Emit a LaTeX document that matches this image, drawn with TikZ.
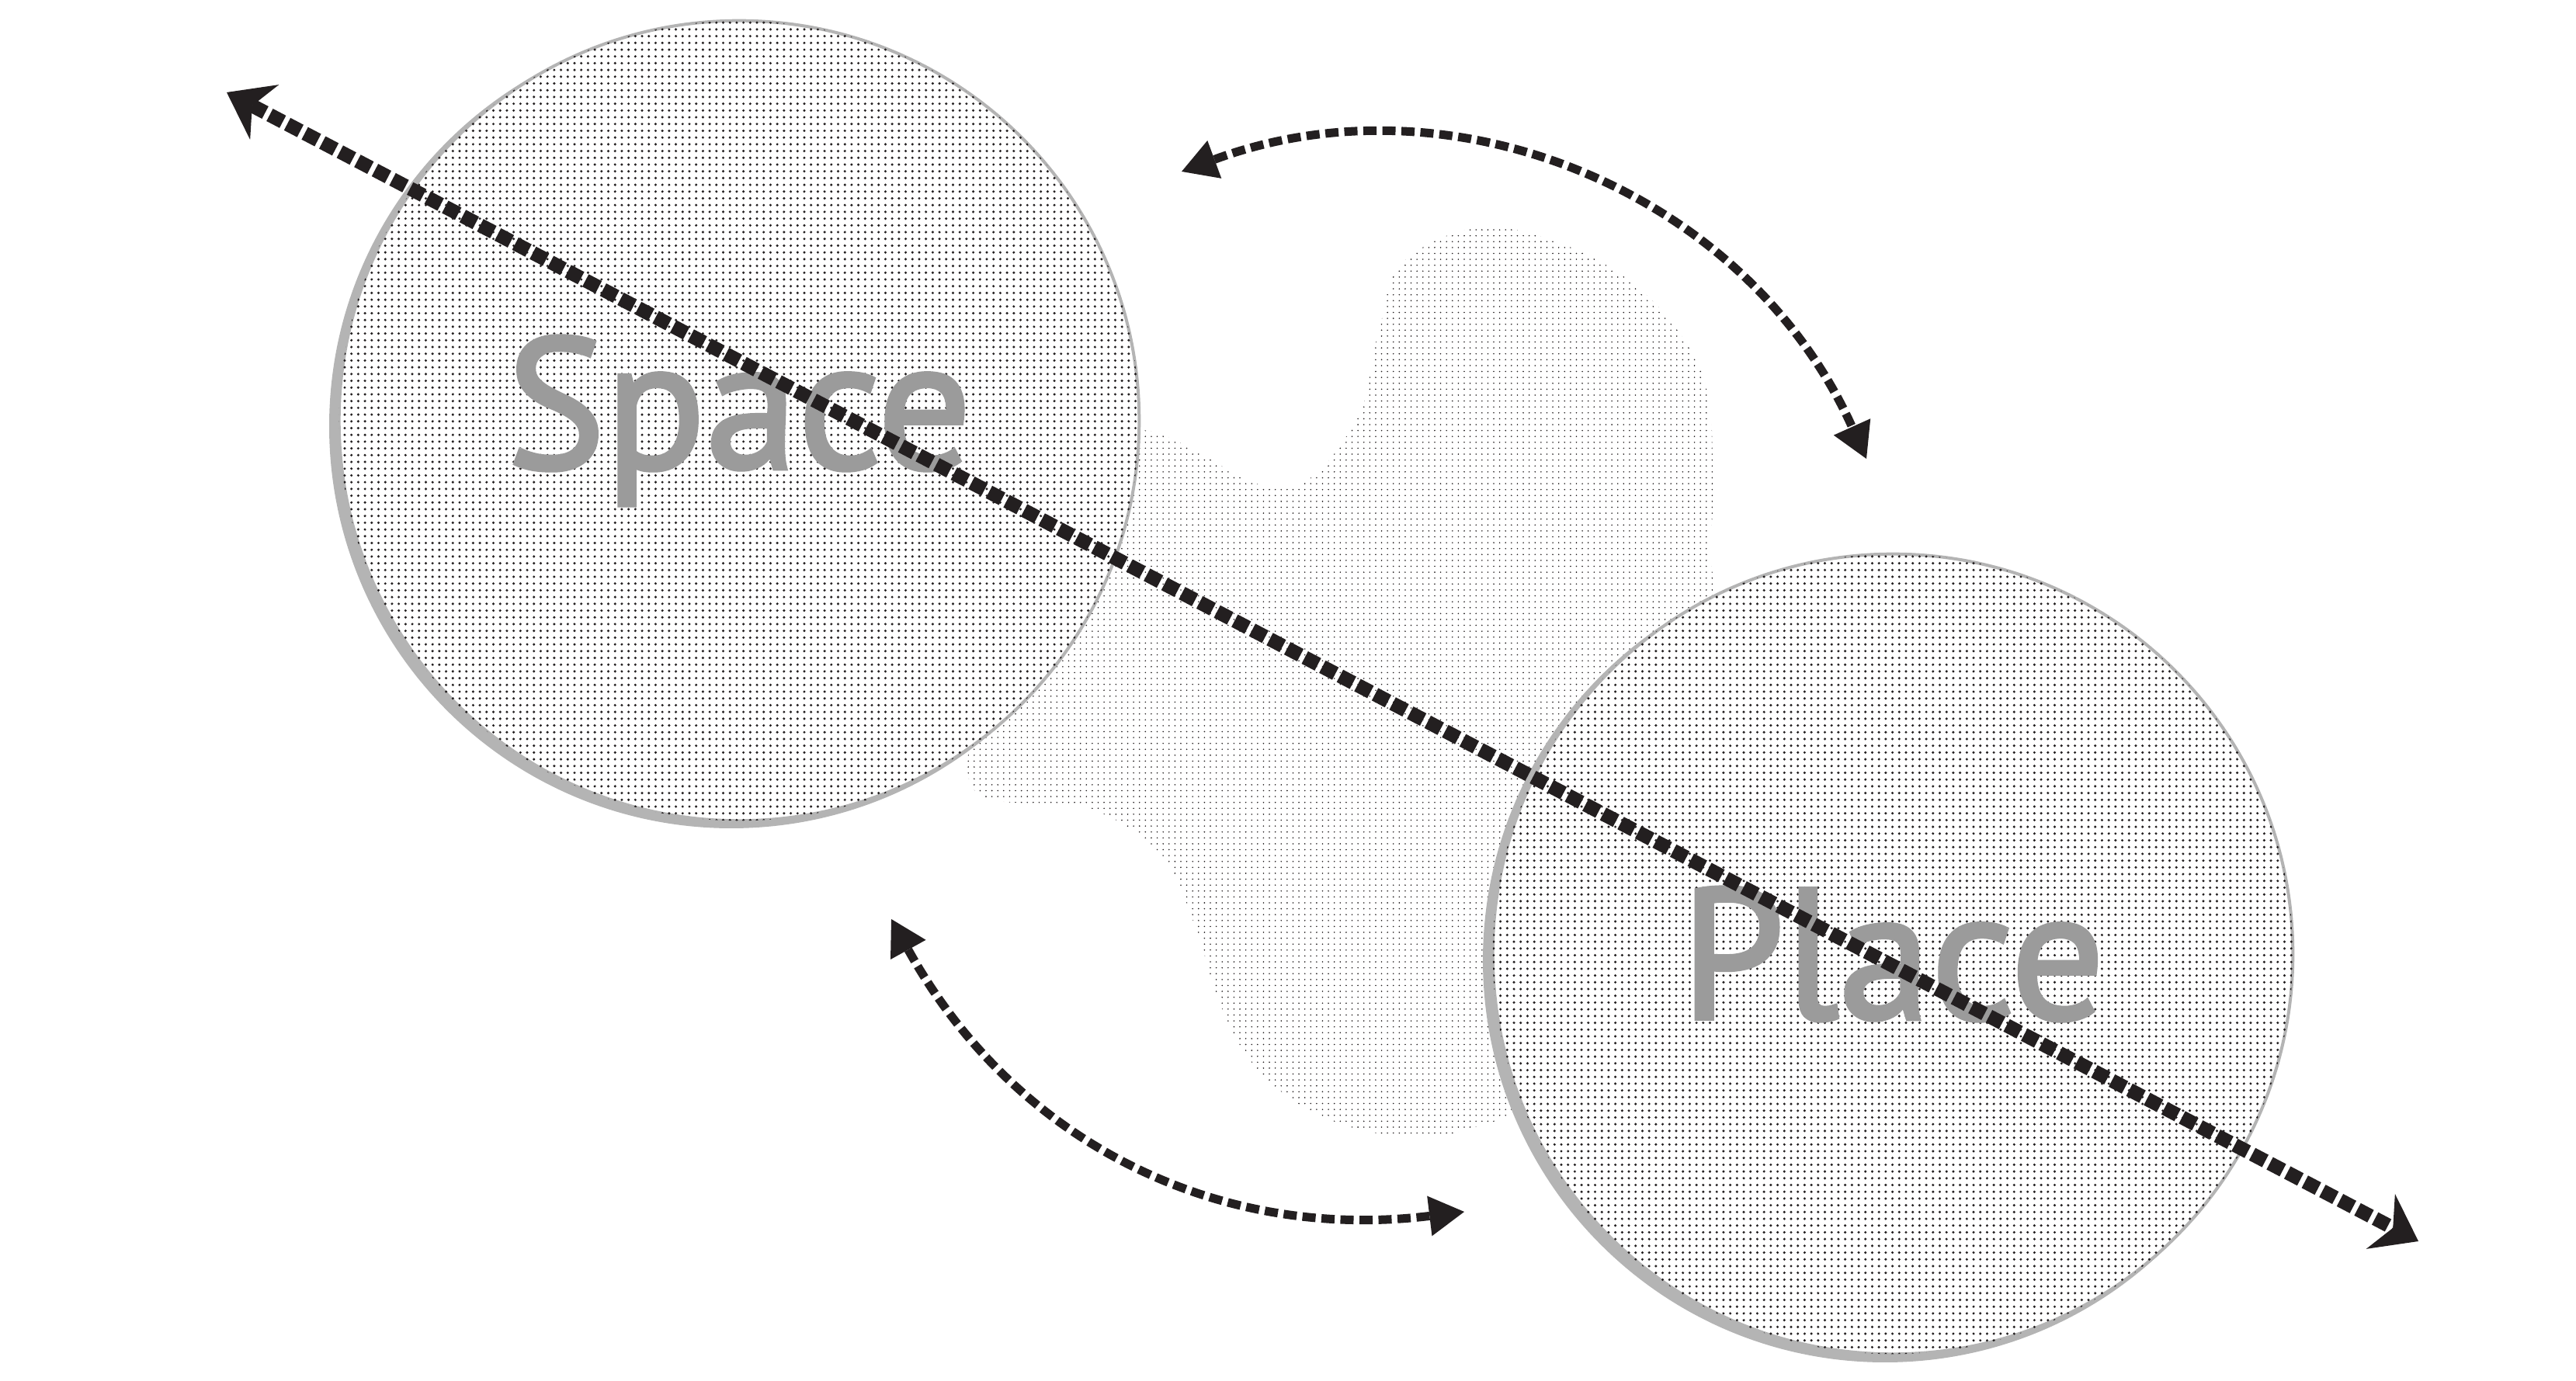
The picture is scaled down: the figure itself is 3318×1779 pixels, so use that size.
\documentclass[tikz,border=0pt]{standalone}
\usepackage{fontspec}
\setmainfont{PT Sans}
\newfontfamily\wordfont{PT Sans}[FakeBold=2.2]
\usepackage{xcolor}
\usetikzlibrary{positioning,arrows.meta,patterns.meta}

\definecolor{ringgray}{RGB}{180,180,180}
\definecolor{wordgray}{RGB}{155,155,155}
\definecolor{inkblack}{RGB}{35,31,32}

\tikzdeclarepattern{
	name=bigdots,
	type=uncolored,
	bounding box={(-0.03cm,-0.03cm) and (0.03cm,0.03cm)},
	tile size={(0.087cm,0.087cm)},
	code={\fill (0,0) circle (0.017cm);}
}
\tikzdeclarepattern{
	name=finedots,
	type=uncolored,
	bounding box={(-0.01cm,-0.01cm) and (0.01cm,0.01cm)},
	tile size={(0.076cm,0.076cm)},
	code={\fill (0,0) circle (0.009cm);}
}

\begin{document}
\begin{tikzpicture}[x=0.01cm, y=0.01cm,
				bubble/.style={
					circle, draw=ringgray, line width=0.04cm, fill=white,
					postaction={pattern=bigdots, pattern color=inkblack},
					minimum size=10.3cm, inner sep=0pt,
					text=wordgray, font=\wordfont\fontsize{68}{68}\selectfont
				},
				rim/.style={fill=ringgray},
				longarrow/.style={
					draw=inkblack, line width=0.18cm,
					dash pattern=on 0.19cm off 0.065cm,
					arrows={Stealth[length=0.55cm,width=0.8cm,inset=0.18cm,line width=0pt]-Stealth[length=0.55cm,width=0.8cm,inset=0.18cm,line width=0pt]}
				},
				swing/.style={
					draw=inkblack, line width=0.11cm,
					dash pattern=on 0.17cm off 0.075cm,
					arrows={Triangle[length=0.45cm,width=0.52cm,line width=0pt]-Triangle[length=0.45cm,width=0.52cm,line width=0pt]}
				}
				]
				\useasboundingbox (0,0) rectangle (3318,1779);
				
				\fill[pattern=finedots, pattern color=inkblack]
				plot[smooth cycle, tension=0.6] coordinates {
					(1400,1179) (1480,1224) (1650,1149) (1745,1234) (1775,1349)
					(1810,1444) (1930,1486) (2090,1424) (2190,1304) (2207,1159)
					(2210,1019) (2300,779) (2000,399) (1900,327) (1790,317)
					(1690,347) (1615,407) (1570,489) (1540,584) (1495,679)
					(1400,739) (1250,769) (1300,979)};
				
				\coordinate (c1) at (952,1237);
				\coordinate (c2) at (2438,550);
				\fill[rim] ([shift={(-10,-7)}]c1) circle (518);
				\fill[rim] ([shift={(-10,-8)}]c2) circle (518);
				
				\node[bubble] (space) at (c1) {Space};
				\node[bubble] (place) at (c2) {Place};
				
				\coordinate (a1) at (292,1660);
				\coordinate (a2) at (3115,180);
				\coordinate (t1) at (1522,1558);
				\coordinate (t2) at (2404,1188);
				\coordinate (b1) at (1148,595);
				\coordinate (b2) at (1886,218);
				
				\draw[swing] (t1) to[bend left=43] (t2);
				\draw[swing] (b1) to[bend right=34] (b2);
				\draw[longarrow] (a1) -- (a2);
			\end{tikzpicture}
\end{document}
